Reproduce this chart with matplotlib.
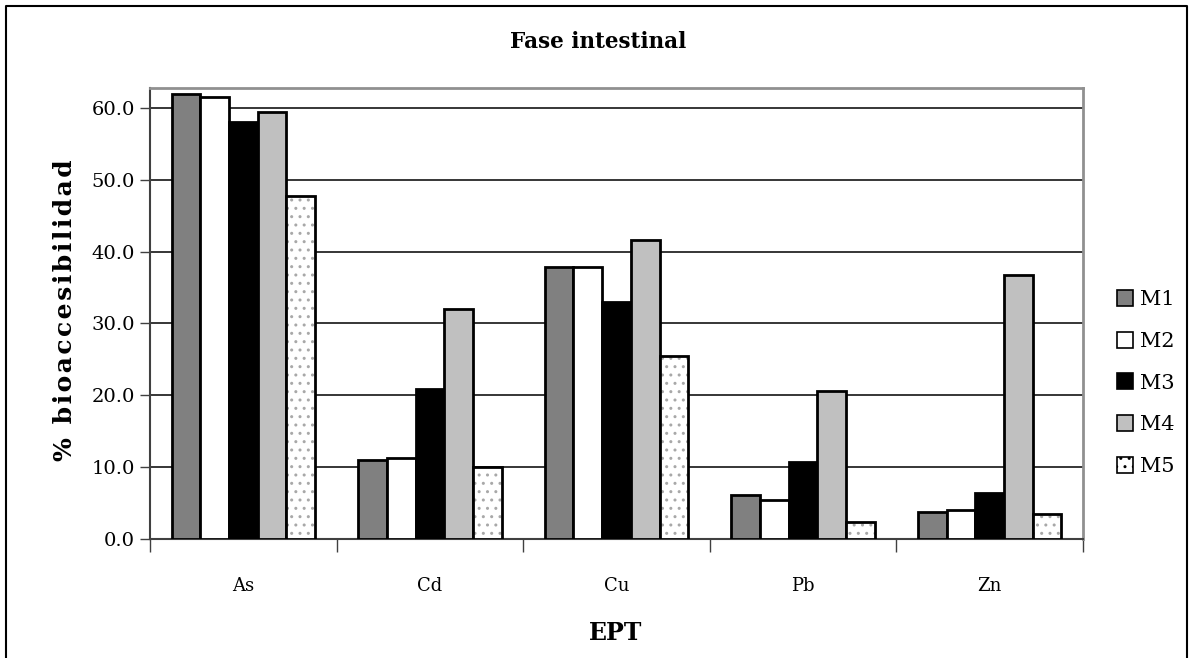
import matplotlib
matplotlib.use("Agg")
import matplotlib.pyplot as plt
import numpy as np
from matplotlib.lines import Line2D

categories = ["As", "Cd", "Cu", "Pb", "Zn"]
series_names = ["M1", "M2", "M3", "M4", "M5"]
M1 = [61.9, 11.0, 37.9, 6.0, 3.7]
M2 = [61.5, 11.2, 37.9, 5.4, 4.0]
M3 = [58.1, 20.8, 33.0, 10.6, 6.4]
M4 = [59.4, 32.0, 41.6, 20.5, 36.7]
M5 = [47.7, 10.0, 25.4, 2.3, 3.4]
series_values = [M1, M2, M3, M4, M5]
yticks = [0, 10, 20, 30, 40, 50, 60]

plt.rcParams['font.family'] = ['DejaVu Serif']

fig = plt.figure(figsize=(11.89, 6.58), dpi=100)
ax = fig.add_axes([150/1189, 1-538.5/658, (1083-150)/1189, (538.5-88)/658])

fills = ["#808080", "#ffffff", "#000000", "#c0c0c0", "#ffffff"]
n = len(series_names)
w = 1/6.5
x = np.arange(len(categories))
for i, (name, vals) in enumerate(zip(series_names, series_values)):
    pos = x - (n*w)/2 + w/2 + i*w
    if name == "M5":
        ax.bar(pos, vals, width=w, color="white", edgecolor="#a8a8a8",
               hatch="..", linewidth=0, zorder=3)
        ax.bar(pos, vals, width=w, fill=False, edgecolor="black",
               linewidth=2, zorder=4)
    else:
        ax.bar(pos, vals, width=w, color=fills[i], edgecolor="black",
               linewidth=2, zorder=3)

ax.set_xlim(-0.5, len(categories)-0.5)
ax.set_ylim(0, 62.8)
ax.set_yticks(yticks)
ax.set_yticklabels([f"{v:.1f}" for v in yticks], fontsize=14)
ax.set_xticks(x)
ax.set_xticklabels(categories, fontsize=13)
ax.tick_params(axis='x', length=0, pad=28)
ax.set_xticks(np.arange(-0.5, len(categories)), minor=True)
ax.tick_params(axis='x', which='minor', length=9, width=1, color="#404040", direction='out')
ax.tick_params(axis='y', length=7, width=1, color="#404040", direction='out', pad=4)
ax.yaxis.grid(True, color="black", linewidth=1.1, zorder=0)
ax.set_axisbelow(True)
for s in ['top', 'right']:
    ax.spines[s].set_color("#909090")
    ax.spines[s].set_linewidth(2)
ax.spines['left'].set_color("#404040")
ax.spines['left'].set_linewidth(1.5)
ax.spines['bottom'].set_color("#404040")
ax.spines['bottom'].set_linewidth(1.5)

fig.text(598/1189, 1-42/658, "Fase intestinal", ha='center', va='center',
         fontsize=15.5, fontweight='bold')
fig.text(616/1189, 1-633/658, "EPT", ha='center', va='center',
         fontsize=17, fontweight='bold')
ylab = "\u200a".join("% bioaccesibilidad")
fig.text(65/1189, 1-310/658, ylab, ha='center', va='center',
         rotation=90, fontsize=18, fontweight='bold')

# legend
leg_handles = []
for i, name in enumerate(series_names):
    leg_handles.append(plt.Rectangle((0, 0), 1, 1, facecolor=fills[i],
                       edgecolor="black", linewidth=1.2,
                       hatch=".." if name == "M5" else None))
leg = fig.legend(leg_handles, series_names, loc='center left',
                 bbox_to_anchor=(1098/1189, 1-383/658), frameon=False,
                 fontsize=15, handlelength=0.8, handleheight=0.8,
                 handletextpad=0.3, labelspacing=1.08)

# outer border
bl = Line2D([6/1189, 6/1189, 1187/1189, 1187/1189],
            [-0.1, 1-6/658, 1-6/658, -0.1], transform=fig.transFigure,
            color="black", linewidth=1.5, clip_on=False)
fig.add_artist(bl)

fig.savefig("out.png", dpi=100)
